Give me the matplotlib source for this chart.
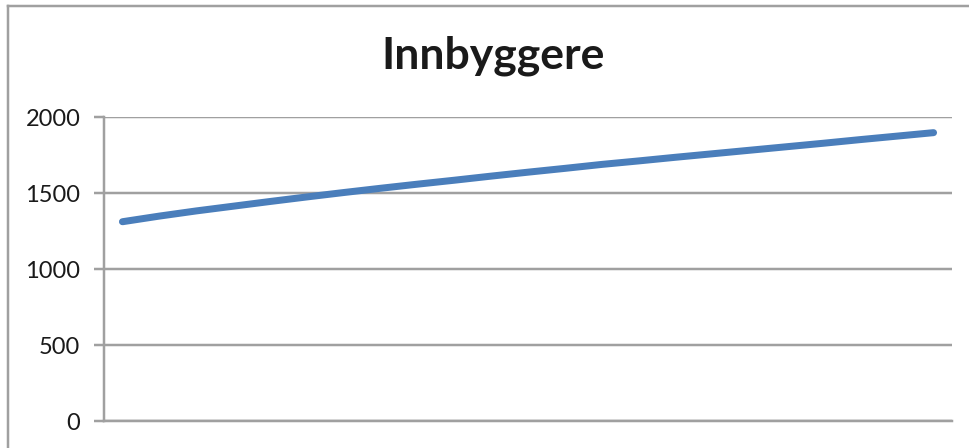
import matplotlib
matplotlib.use("Agg")
import matplotlib.pyplot as plt
from matplotlib.lines import Line2D

# ---- data ----
title = "Innbyggere"
categories = list(range(1, 24))
innbyggere = [1313, 1350, 1384, 1415, 1446, 1476, 1505, 1533, 1560, 1586,
              1613, 1639, 1664, 1690, 1713, 1737, 1760, 1783, 1806, 1829,
              1853, 1876, 1899]
y_ticks = [0, 500, 1000, 1500, 2000]

W, H = 970, 448
fig = plt.figure(figsize=(W / 100, H / 100), dpi=100)
fig.patch.set_facecolor("white")

grid_col = "#a0a0a0"
px = 72 / 100  # points per pixel

ax = fig.add_axes([104 / W, 1 - 421.3 / H, (952 - 104) / W, (421.3 - 117.3) / H])
x = list(range(len(categories)))
ax.plot(x, innbyggere, color="#4a7ebb", lw=7 * px, solid_capstyle="round",
        solid_joinstyle="round", zorder=3)

ax.set_xlim(-0.5, len(categories) - 0.5)
ax.set_ylim(y_ticks[0], y_ticks[-1])
ax.set_yticks(y_ticks)
ax.set_yticklabels([str(v) for v in y_ticks], fontfamily="Lato", fontsize=17,
                   color="#1a1a1a")
ax.set_xticks([])
ax.tick_params(axis="y", length=7, width=2.5 * px, color=grid_col, pad=10)
ax.yaxis.grid(True, color=grid_col, lw=2.5 * px)
ax.set_axisbelow(True)
for s in ["top", "right"]:
    ax.spines[s].set_visible(False)
for s in ["left", "bottom"]:
    ax.spines[s].set_color(grid_col)
    ax.spines[s].set_linewidth(2.5 * px)

fig.text(493 / W, 1 - 56 / H, title, ha="center", va="center",
         fontfamily="Lato", fontweight="bold", fontsize=32, color="#1a1a1a")

# outer chart border (cropped)
fig.add_artist(Line2D([8 / W, 8 / W], [0, 1 - 6 / H], color=grid_col, lw=2.5 * px))
fig.add_artist(Line2D([8 / W, 1], [1 - 6 / H, 1 - 6 / H], color=grid_col, lw=2.5 * px))

fig.savefig("out.png", dpi=100)
